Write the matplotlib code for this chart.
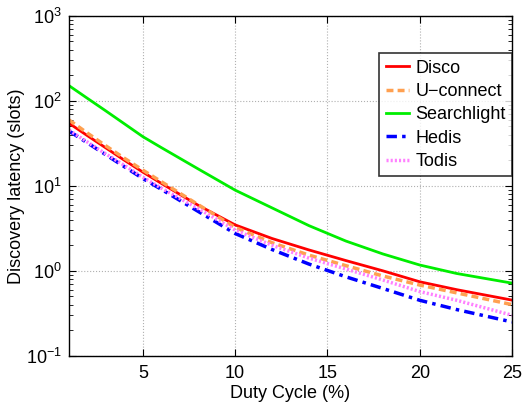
import matplotlib
matplotlib.use("Agg")
import matplotlib.pyplot as plt
import numpy as np

plt.rcParams['font.family'] = ['Liberation Sans', 'DejaVu Sans']
plt.rcParams['mathtext.fontset'] = 'custom'
plt.rcParams['mathtext.rm'] = 'Liberation Sans'

duty = [1, 2, 3, 4, 5, 6, 8, 10, 12, 14, 16, 18, 20, 22, 25]
disco = [54.5, 38.9, 27.9, 20.0, 14.5, 10.7, 5.9, 3.47, 2.4, 1.76, 1.32, 1.0, 0.743, 0.60, 0.452]
uconnect = [59.6, 41.7, 29.5, 21.1, 15.3, 11.2, 6.0, 3.24, 2.14, 1.53, 1.15, 0.87, 0.68, 0.55, 0.40]
searchlight = [151, 107, 76, 53.7, 37.9, 28.2, 15.8, 8.9, 5.5, 3.4, 2.24, 1.58, 1.17, 0.93, 0.716]
hedis = [44.2, 32.0, 23.2, 16.8, 12.2, 9.1, 5.0, 2.75, 1.78, 1.2, 0.85, 0.62, 0.45, 0.35, 0.25]
todis = [45.2, 32.7, 23.7, 17.4, 12.6, 9.4, 5.4, 3.02, 2.0, 1.41, 1.05, 0.78, 0.57, 0.45, 0.30]

xticks = [5, 10, 15, 20, 25]

fig = plt.figure(figsize=(5.23, 4.08), dpi=100)
ax = fig.add_axes([0.132, 0.128, 0.847, 0.833])

ax.plot(duty, disco, color='#ff0000', lw=2, ls='-', label='Disco')
ax.plot(duty, uconnect, color='#ffa050', lw=2.5, ls=(0, (2, 1.2)), label='U\u2212connect')
ax.plot(duty, searchlight, color='#00ee00', lw=2, ls='-', label='Searchlight')
ax.plot(duty, hedis, color='#0000ff', lw=2.5, ls=(0, (3, 1.5, 1, 1.5)), label='Hedis')
ax.plot(duty, todis, color='#ff80ff', lw=2.5, ls=(0, (0.6, 0.6)), label='Todis')

ax.set_yscale('log')
ax.set_xlim(1, 25)
ax.set_ylim(0.1, 1000)
ax.set_xticks(xticks)
ax.set_xticklabels([str(t) for t in xticks])
ax.set_yticks([0.1, 1, 10, 100, 1000])
ax.set_yticklabels([r'$10^{-1}$', r'$10^{0}$', r'$10^{1}$', r'$10^{2}$', r'$10^{3}$'])
ax.tick_params(which='both', direction='in', top=True, right=True, labelsize=13)
ax.tick_params(axis='x', pad=7)
ax.tick_params(axis='y', pad=5)
ax.tick_params(which='major', length=5)
ax.tick_params(which='minor', length=3)
ax.grid(True, which='major', ls=':', color='#b0b0b0', lw=0.8)
for s in ax.spines.values():
    s.set_linewidth(1.0)

ax.set_xlabel('Duty Cycle (%)', fontsize=13, labelpad=2)
ax.set_ylabel('Discovery latency (slots)', fontsize=13, labelpad=1)

leg = ax.legend(loc='upper right', bbox_to_anchor=(1.0, 0.89), fontsize=13,
                frameon=True, fancybox=False, edgecolor='black',
                handlelength=1.3, handletextpad=0.35, labelspacing=0.35,
                borderpad=0.35, borderaxespad=0.0)
leg.get_frame().set_linewidth(1.2)

fig.savefig('out.png', dpi=100)
